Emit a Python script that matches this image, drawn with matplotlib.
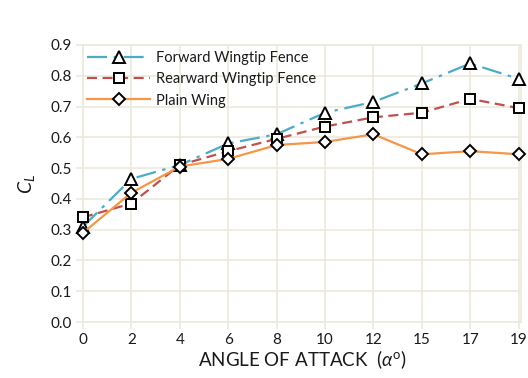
#!/usr/bin/env python3

import matplotlib
matplotlib.use('Agg')
import matplotlib.pyplot as plt

angles = ['0', '2', '4', '6', '8', '10', '12', '15', '17', '19']
forward = [0.31, 0.465, 0.51, 0.58, 0.61, 0.68, 0.715, 0.775, 0.84, 0.79]
rearward = [0.34, 0.385, 0.51, 0.555, 0.595, 0.635, 0.665, 0.68, 0.725, 0.695]
plain = [0.29, 0.42, 0.505, 0.53, 0.575, 0.585, 0.61, 0.545, 0.555, 0.545]

plt.rcParams['font.family'] = ['Lato', 'DejaVu Sans']
plt.rcParams['mathtext.fontset'] = 'custom'
plt.rcParams['mathtext.rm'] = 'Lato'
plt.rcParams['mathtext.it'] = 'Lato:italic'

grid_col = '#ECE9DD'
txt_col = '#1a1a1a'

fig = plt.figure(figsize=(5.28, 3.78), dpi=100)
ax = fig.add_axes([83/528, 1-322/378, (521-83)/528, (322-45)/378])

x = list(range(len(angles)))
ax.plot(x, forward, color='#4BACC6', lw=1.6, dashes=(9, 3, 1.5, 3),
        marker='^', ms=8, mfc='white', mec='black', mew=1.4,
        label='Forward Wingtip Fence', clip_on=False, zorder=3)
ax.plot(x, rearward, color='#C0504D', lw=1.6, dashes=(4.5, 2.5),
        marker='s', ms=7, mfc='white', mec='black', mew=1.4,
        label='Rearward Wingtip Fence', clip_on=False, zorder=4)
ax.plot(x, plain, color='#F79646', lw=1.6,
        marker='D', ms=6, mfc='white', mec='black', mew=1.4,
        label='Plain Wing', clip_on=False, zorder=5)

ax.set_xlim(0, (521-83)/48.4)
ax.set_ylim(0, 0.9)
ax.set_xticks(x)
ax.set_xticklabels(angles)
ax.set_yticks([i/10 for i in range(10)])
ax.set_yticklabels(['%.1f' % (i/10) for i in range(10)])

ax.grid(True, color=grid_col, lw=1.2)
ax.set_axisbelow(True)
for s in ax.spines.values():
  s.set_color(grid_col)
  s.set_linewidth(1.2)
ax.tick_params(axis='both', colors=grid_col, length=5, width=1.2, labelsize=11,
               labelcolor=txt_col, pad=3)

ax.set_xlabel(r'ANGLE OF ATTACK  ($\it{\alpha}^{\rm{o}}$)', fontsize=13.5, labelpad=1, color=txt_col)
ax.set_ylabel(r'$C_L$', fontsize=14, labelpad=10, color=txt_col)

ax.legend(loc='upper left', bbox_to_anchor=(-0.01, 1.01), frameon=False, fontsize=10.5,
          handlelength=4.3, handletextpad=0.4, labelspacing=0.5, borderaxespad=0.2,
          labelcolor=txt_col)

fig.savefig('out.png', dpi=100)
